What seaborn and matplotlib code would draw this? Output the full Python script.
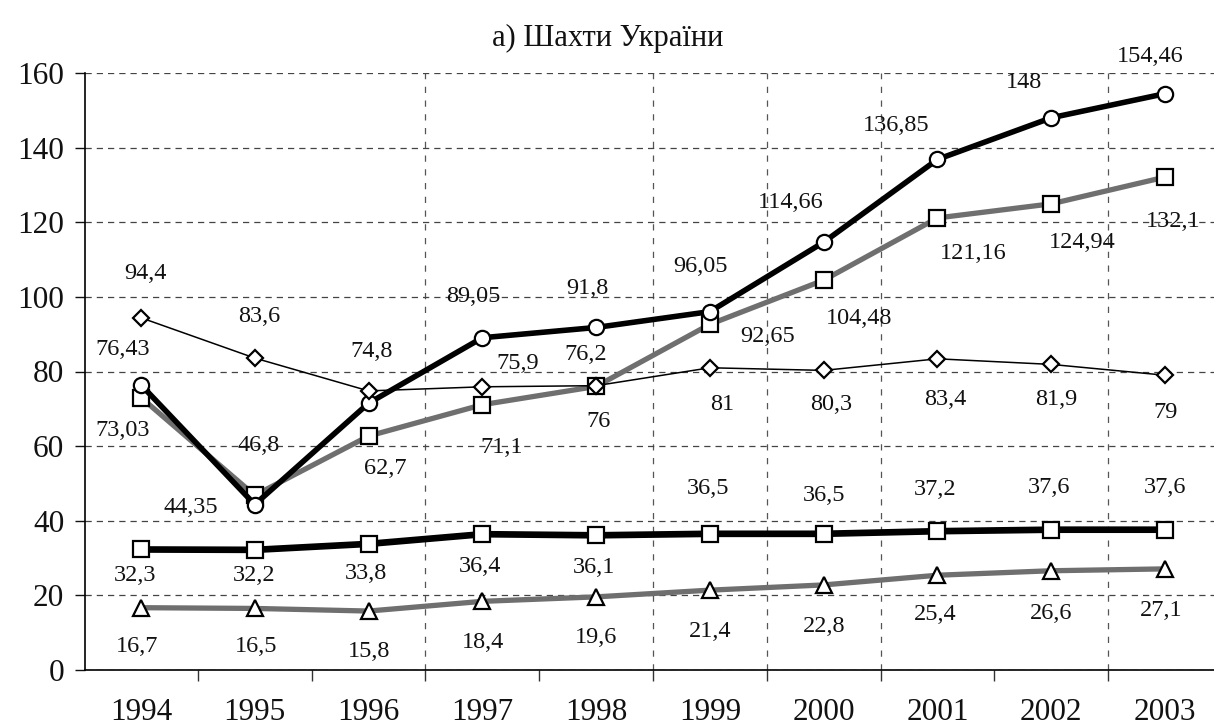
import numpy as np
import pandas as pd
import seaborn as sns
import matplotlib.pyplot as plt

# data (1996 circle has no label, value estimated)
years = [1994, 1995, 1996, 1997, 1998, 1999, 2000, 2001, 2002, 2003]
circles = [76.43, 44.35, 71.5, 89.05, 91.8, 96.05, 114.66, 136.85, 148, 154.46]
gray_squares = [73.03, 46.8, 62.7, 71.1, 76, 92.65, 104.48, 121.16, 124.94, 132.1]
diamonds = [94.4, 83.6, 74.8, 75.9, 76.2, 81, 80.3, 83.4, 81.9, 79]
black_squares = [32.3, 32.2, 33.8, 36.4, 36.1, 36.5, 36.5, 37.2, 37.6, 37.6]
triangles = [16.7, 16.5, 15.8, 18.4, 19.6, 21.4, 22.8, 25.4, 26.6, 27.1]
yticks = [0, 20, 40, 60, 80, 100, 120, 140, 160]
title = "а) Шахти України"

# label offsets in pixels (dx, dy), None = no label
off_circles = [(-18, 35), (-64, -3), None, (-9, 41), (-9, 39), (-9, 45), (-33, 40), (-41, 34), (-27, 35), (-15, 37)]
off_gray_sq = [(-18, -33), (4, 50), (17, -32), (19, -43), (2, -35), (58, -12), (35, -38), (36, -36), (31, -39), (8, -44)]
off_diamonds = [(4, 44), (4, 42), (3, 39), (35, 23), (-10, 31), (12, -37), (7, -34), (8, -41), (5, -35), (0, -37)]
off_black_sq = [(-6, -26), (-1, -26), (-3, -30), (-2, -32), (-2, -32), (-2, 45), (0, 38), (-2, 42), (-2, 42), (0, 42)]
off_triangles = [(-4, -39), (1, -38), (0, -40), (1, -41), (0, -41), (0, -41), (0, -42), (-2, -39), (0, -43), (-4, -42)]

sns.set_theme(style="white")
plt.rcParams['font.family'] = ['Liberation Serif', 'DejaVu Serif']

fig = plt.figure(figsize=(12.14, 7.27), dpi=100)
ax = fig.add_axes([85 / 1214, 57 / 727, 1129 / 1214, 597 / 727])

gray = '#6f6f6f'
series = [
    (triangles, off_triangles, gray, 3.8, '^', 11.5),
    (black_squares, off_black_sq, 'black', 4.8, 's', 11.5),
    (gray_squares, off_gray_sq, gray, 3.8, 's', 11),
    (circles, off_circles, 'black', 4.0, 'o', 11),
    (diamonds, off_diamonds, 'black', 1.1, 'D', 8.5),
]

for vals, offs, col, lw, mk, ms in series:
    sns.lineplot(x=years, y=vals, ax=ax, color=col, linewidth=lw, marker=mk,
                 markersize=ms, markerfacecolor='white', markeredgecolor='black',
                 markeredgewidth=1.6, errorbar=None)
    for yr, v, o in zip(years, vals, offs):
        if o is None:
            continue
        ax.annotate(f"{v:g}".replace('.', ','), (yr, v), xytext=o,
                    textcoords='offset pixels', ha='center', va='center',
                    fontsize=17.5, color='#111111')

ax.set_xlim(years[0] - 0.492, years[0] + 9.43)
ax.set_ylim(0, 160)
ax.set_yticks(yticks)
ax.set_xticks(years)
ax.set_xticklabels([str(y) for y in years])
ax.set_xticks([y + 0.5 for y in years[:-1]], minor=True)
ax.tick_params(axis='x', which='major', length=0, pad=20, labelsize=22.5, colors='#111111')
ax.tick_params(axis='x', which='minor', length=8, width=1, direction='out', color='#333333', bottom=True)
ax.tick_params(axis='y', which='major', length=7, width=1, direction='out', pad=8, labelsize=22.5,
               colors='#111111', left=True)
ax.set_xlabel('')
ax.set_ylabel('')

ax.yaxis.grid(True, linestyle=(0, (5, 4)), color='#444444', linewidth=0.9)
ax.set_axisbelow(True)
# only some of the vertical gridlines show in the picture
for y in [1996, 1998, 1999, 2000, 2002]:
    ax.axvline(y + 0.5, linestyle=(0, (5, 6)), color='#555555', linewidth=0.9, zorder=0)

sns.despine(ax=ax, top=True, right=True)
ax.spines['left'].set_color('black')
ax.spines['left'].set_linewidth(1.2)
ax.spines['bottom'].set_color('black')
ax.spines['bottom'].set_linewidth(1.2)

fig.text(608 / 1214, 1 - 38 / 727, title, ha='center', va='center', fontsize=22, color='#111111')

fig.savefig('out.png', dpi=100)
